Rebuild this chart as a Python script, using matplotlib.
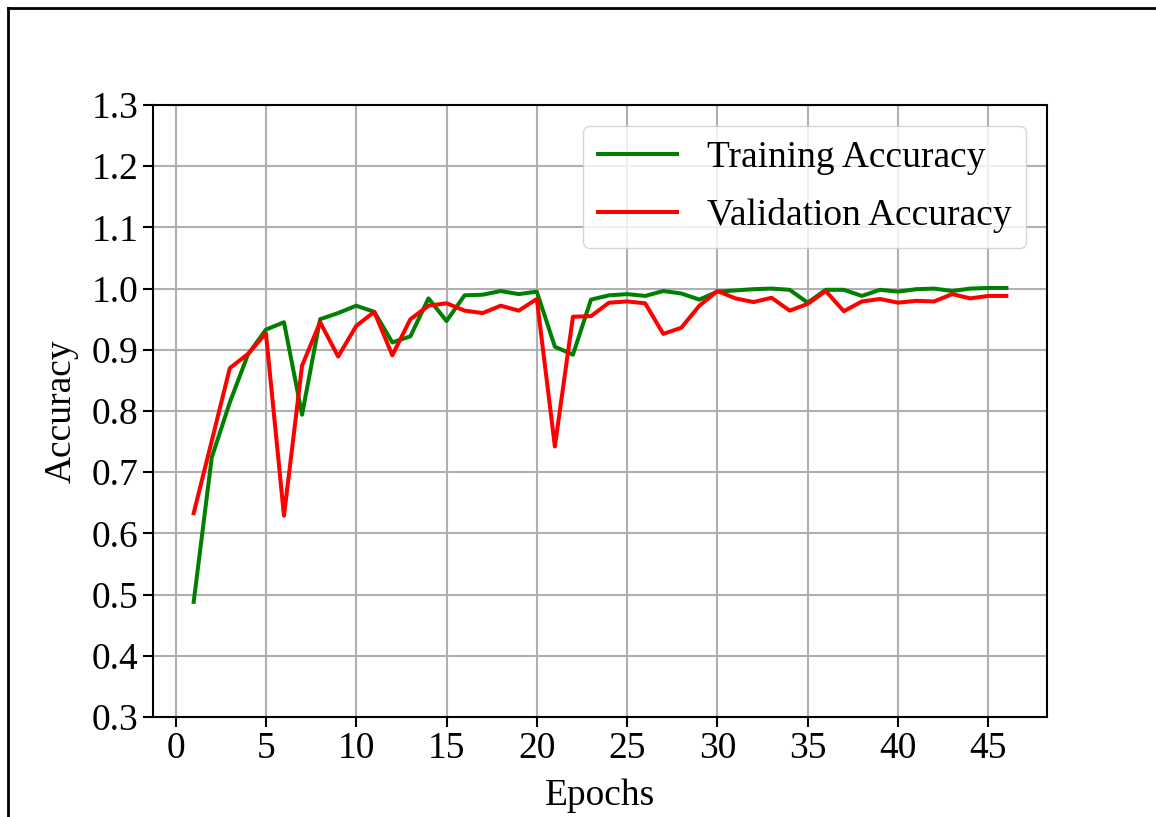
import matplotlib.pyplot as plt
from matplotlib.lines import Line2D

plt.rcParams['font.family'] = ['Liberation Serif', 'DejaVu Serif']

epochs = list(range(1, 47))

train_acc = [0.488, 0.724, 0.814, 0.892, 0.933, 0.945, 0.794, 0.950, 0.960, 0.972,
             0.962, 0.912, 0.922, 0.984, 0.947, 0.989, 0.990, 0.996, 0.991, 0.995,
             0.905, 0.892, 0.982, 0.989, 0.991, 0.988, 0.996, 0.992, 0.982, 0.995,
             0.997, 0.999, 1.000, 0.998, 0.977, 0.998, 0.998, 0.988, 0.998, 0.995,
             0.999, 1.000, 0.996, 1.000, 1.001, 1.001]

val_acc = [0.633, 0.751, 0.870, 0.893, 0.927, 0.629, 0.874, 0.945, 0.889, 0.939,
           0.962, 0.891, 0.950, 0.972, 0.976, 0.964, 0.960, 0.972, 0.964, 0.983,
           0.742, 0.954, 0.955, 0.977, 0.979, 0.976, 0.926, 0.936, 0.972, 0.996,
           0.984, 0.978, 0.985, 0.964, 0.975, 0.996, 0.963, 0.979, 0.983, 0.977,
           0.980, 0.979, 0.991, 0.984, 0.988, 0.988]

fig = plt.figure(figsize=(11.56, 8.17), dpi=100)
ax = fig.add_axes([0.1324, 0.1224, 0.7733, 0.7491])

ax.plot(epochs, train_acc, color='green', linewidth=2.9, label='Training Accuracy')
ax.plot(epochs, val_acc, color='red', linewidth=2.9, label='Validation Accuracy')

ax.set_ylim(0.3, 1.3)
ax.set_yticks([0.3, 0.4, 0.5, 0.6, 0.7, 0.8, 0.9, 1.0, 1.1, 1.2, 1.3])
ax.set_xticks(range(0, 46, 5))
ax.set_xlabel('Epochs', fontsize=27, labelpad=9)
ax.set_ylabel('Accuracy', fontsize=27, labelpad=9)
ax.tick_params(labelsize=27, length=7, width=1.5)
ax.grid(True, color='#b0b0b0', linewidth=1.5)
for sp in ax.spines.values():
    sp.set_linewidth(1.5)

ax.legend(loc='upper right', fontsize=27, framealpha=0.8, labelspacing=0.62,
          handlelength=2.1, borderaxespad=0.55)

# frame lines along the top and left edge
fig.add_artist(Line2D([0.0065, 1.0], [0.9908, 0.9908], color='black', linewidth=2,
                      transform=fig.transFigure))
fig.add_artist(Line2D([0.0065, 0.0065], [0.0, 0.9908], color='black', linewidth=2,
                      transform=fig.transFigure))

fig.savefig('out.png', dpi=100)
